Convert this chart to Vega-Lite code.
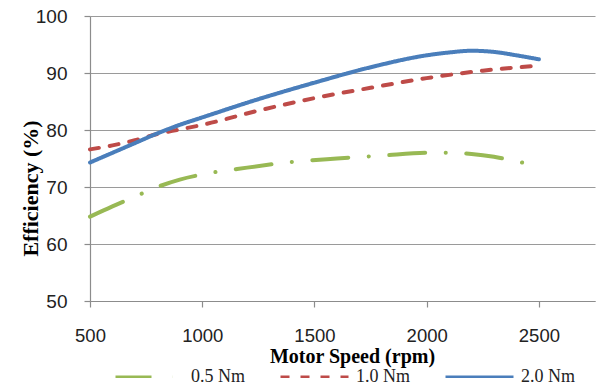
{
  "$schema": "https://vega.github.io/schema/vega-lite/v6.json",
  "width": 505,
  "height": 285,
  "autosize": {"type": "none"},
  "padding": {"left": 90, "top": 16, "right": 7, "bottom": 85},
  "background": "white",
  "config": {"view": {"stroke": null}},
  "data": {
    "values": [
      {"speed": 500, "eff": 64.8, "torque": "0.5 Nm"},
      {"speed": 600, "eff": 66.6, "torque": "0.5 Nm"},
      {"speed": 700, "eff": 68.3, "torque": "0.5 Nm"},
      {"speed": 800, "eff": 70.0, "torque": "0.5 Nm"},
      {"speed": 900, "eff": 71.3, "torque": "0.5 Nm"},
      {"speed": 1000, "eff": 72.2, "torque": "0.5 Nm"},
      {"speed": 1200, "eff": 73.4, "torque": "0.5 Nm"},
      {"speed": 1400, "eff": 74.4, "torque": "0.5 Nm"},
      {"speed": 1600, "eff": 75.0, "torque": "0.5 Nm"},
      {"speed": 1800, "eff": 75.5, "torque": "0.5 Nm"},
      {"speed": 2000, "eff": 76.0, "torque": "0.5 Nm"},
      {"speed": 2100, "eff": 76.0, "torque": "0.5 Nm"},
      {"speed": 2200, "eff": 75.8, "torque": "0.5 Nm"},
      {"speed": 2300, "eff": 75.3, "torque": "0.5 Nm"},
      {"speed": 2400, "eff": 74.5, "torque": "0.5 Nm"},
      {"speed": 2500, "eff": 73.7, "torque": "0.5 Nm"},
      {"speed": 500, "eff": 76.6, "torque": "1.0 Nm"},
      {"speed": 600, "eff": 77.3, "torque": "1.0 Nm"},
      {"speed": 700, "eff": 78.2, "torque": "1.0 Nm"},
      {"speed": 800, "eff": 79.3, "torque": "1.0 Nm"},
      {"speed": 900, "eff": 80.1, "torque": "1.0 Nm"},
      {"speed": 1000, "eff": 80.9, "torque": "1.0 Nm"},
      {"speed": 1250, "eff": 83.4, "torque": "1.0 Nm"},
      {"speed": 1500, "eff": 85.6, "torque": "1.0 Nm"},
      {"speed": 1750, "eff": 87.4, "torque": "1.0 Nm"},
      {"speed": 2000, "eff": 89.1, "torque": "1.0 Nm"},
      {"speed": 2250, "eff": 90.4, "torque": "1.0 Nm"},
      {"speed": 2500, "eff": 91.3, "torque": "1.0 Nm"},
      {"speed": 500, "eff": 74.3, "torque": "2.0 Nm"},
      {"speed": 600, "eff": 76.0, "torque": "2.0 Nm"},
      {"speed": 700, "eff": 77.7, "torque": "2.0 Nm"},
      {"speed": 800, "eff": 79.4, "torque": "2.0 Nm"},
      {"speed": 900, "eff": 80.9, "torque": "2.0 Nm"},
      {"speed": 1000, "eff": 82.2, "torque": "2.0 Nm"},
      {"speed": 1250, "eff": 85.4, "torque": "2.0 Nm"},
      {"speed": 1500, "eff": 88.3, "torque": "2.0 Nm"},
      {"speed": 1750, "eff": 91.0, "torque": "2.0 Nm"},
      {"speed": 2000, "eff": 93.1, "torque": "2.0 Nm"},
      {"speed": 2100, "eff": 93.6, "torque": "2.0 Nm"},
      {"speed": 2200, "eff": 93.9, "torque": "2.0 Nm"},
      {"speed": 2300, "eff": 93.7, "torque": "2.0 Nm"},
      {"speed": 2400, "eff": 93.1, "torque": "2.0 Nm"},
      {"speed": 2500, "eff": 92.4, "torque": "2.0 Nm"}
    ]
  },
  "mark": {"type": "line", "strokeWidth": 4, "strokeCap": "round", "interpolate": "monotone"},
  "encoding": {
    "x": {
      "field": "speed", "type": "quantitative",
      "scale": {"domain": [500, 2750], "nice": false, "zero": false},
      "axis": {
        "title": "Motor Speed (rpm)",
        "values": [500, 1000, 1500, 2000, 2500],
        "format": "d",
        "labelFlush": false,
        "grid": false,
        "domainColor": "#8c8c8c", "domainWidth": 1.2,
        "tickColor": "#8c8c8c", "tickSize": 6, "tickWidth": 1.2,
        "labelFont": "Liberation Sans", "labelFontSize": 18.5, "labelColor": "#222",
        "labelBaseline": "middle", "labelPadding": 28,
        "titleFont": "Liberation Serif", "titleFontSize": 20, "titleFontWeight": "bold", "titleColor": "#000",
        "titleX": 262, "titleY": 61, "titleBaseline": "alphabetic", "titleAlign": "center"
      }
    },
    "y": {
      "field": "eff", "type": "quantitative",
      "scale": {"domain": [50, 100], "nice": false, "zero": false},
      "axis": {
        "title": "Efficiency (%)",
        "values": [50, 60, 70, 80, 90, 100],
        "grid": true, "gridColor": "#9a9a9a", "gridWidth": 1.2,
        "domainColor": "#8c8c8c", "domainWidth": 1.2,
        "tickColor": "#8c8c8c", "tickSize": 6, "tickWidth": 1.2,
        "labelFont": "Liberation Sans", "labelFontSize": 19, "labelColor": "#222",
        "labelPadding": 17,
        "titleFont": "Liberation Serif", "titleFontSize": 22, "titleFontWeight": "bold", "titleColor": "#000",
        "titleX": -60, "titleY": 172, "titleAngle": 270, "titleAlign": "center", "titleBaseline": "middle"
      }
    },
    "color": {
      "field": "torque", "type": "nominal",
      "scale": {"domain": ["0.5 Nm", "1.0 Nm", "2.0 Nm"], "range": ["#98b954", "#be4b48", "#4a7ebb"]},
      "legend": {
        "title": null,
        "orient": "none", "legendX": 24, "legendY": 325,
        "direction": "horizontal", "columns": 3, "columnPadding": 30,
        "symbolType": "stroke", "symbolSize": 4624, "symbolStrokeWidth": 2.5,
        "labelFont": "Liberation Serif", "labelFontSize": 18, "labelColor": "#222",
        "labelOffset": 6, "padding": 0
      }
    },
    "strokeDash": {
      "field": "torque", "type": "nominal",
      "scale": {"domain": ["0.5 Nm", "1.0 Nm", "2.0 Nm"], "range": [[36, 20.5, 0.1, 20.5], [9, 11], [1, 0]]},
      "legend": null
    }
  }
}
